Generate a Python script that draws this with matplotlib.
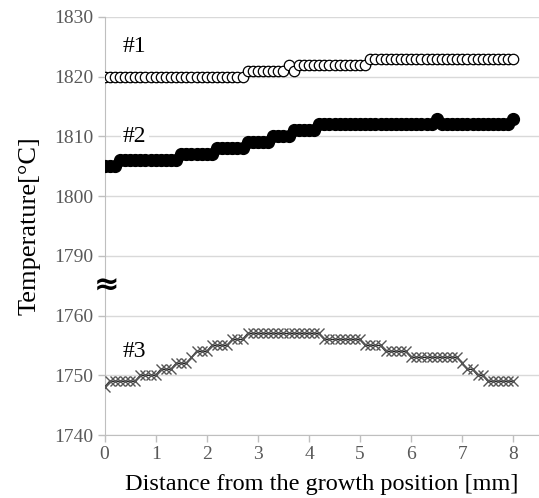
import numpy as np
import matplotlib
matplotlib.use("Agg")
import matplotlib.pyplot as plt

distance = [0.0, 0.1, 0.2, 0.3, 0.4, 0.5, 0.6, 0.7, 0.8, 0.9,
            1.0, 1.1, 1.2, 1.3, 1.4, 1.5, 1.6, 1.7, 1.8, 1.9,
            2.0, 2.1, 2.2, 2.3, 2.4, 2.5, 2.6, 2.7, 2.8, 2.9,
            3.0, 3.1, 3.2, 3.3, 3.4, 3.5, 3.6, 3.7, 3.8, 3.9,
            4.0, 4.1, 4.2, 4.3, 4.4, 4.5, 4.6, 4.7, 4.8, 4.9,
            5.0, 5.1, 5.2, 5.3, 5.4, 5.5, 5.6, 5.7, 5.8, 5.9,
            6.0, 6.1, 6.2, 6.3, 6.4, 6.5, 6.6, 6.7, 6.8, 6.9,
            7.0, 7.1, 7.2, 7.3, 7.4, 7.5, 7.6, 7.7, 7.8, 7.9, 8.0]

temp1 = [1820, 1820, 1820, 1820, 1820, 1820, 1820, 1820, 1820, 1820,
         1820, 1820, 1820, 1820, 1820, 1820, 1820, 1820, 1820, 1820,
         1820, 1820, 1820, 1820, 1820, 1820, 1820, 1820, 1821, 1821,
         1821, 1821, 1821, 1821, 1821, 1821, 1822, 1821, 1822, 1822,
         1822, 1822, 1822, 1822, 1822, 1822, 1822, 1822, 1822, 1822,
         1822, 1822, 1823, 1823, 1823, 1823, 1823, 1823, 1823, 1823,
         1823, 1823, 1823, 1823, 1823, 1823, 1823, 1823, 1823, 1823,
         1823, 1823, 1823, 1823, 1823, 1823, 1823, 1823, 1823, 1823, 1823]

temp2 = [1805, 1805, 1805, 1806, 1806, 1806, 1806, 1806, 1806, 1806,
         1806, 1806, 1806, 1806, 1806, 1807, 1807, 1807, 1807, 1807,
         1807, 1807, 1808, 1808, 1808, 1808, 1808, 1808, 1809, 1809,
         1809, 1809, 1809, 1810, 1810, 1810, 1810, 1811, 1811, 1811,
         1811, 1811, 1812, 1812, 1812, 1812, 1812, 1812, 1812, 1812,
         1812, 1812, 1812, 1812, 1812, 1812, 1812, 1812, 1812, 1812,
         1812, 1812, 1812, 1812, 1812, 1813, 1812, 1812, 1812, 1812,
         1812, 1812, 1812, 1812, 1812, 1812, 1812, 1812, 1812, 1812, 1813]

temp3 = [1748, 1749, 1749, 1749, 1749, 1749, 1749, 1750, 1750, 1750,
         1750, 1751, 1751, 1751, 1752, 1752, 1752, 1753, 1754, 1754,
         1754, 1755, 1755, 1755, 1755, 1756, 1756, 1756, 1757, 1757,
         1757, 1757, 1757, 1757, 1757, 1757, 1757, 1757, 1757, 1757,
         1757, 1757, 1757, 1756, 1756, 1756, 1756, 1756, 1756, 1756,
         1756, 1755, 1755, 1755, 1755, 1754, 1754, 1754, 1754, 1754,
         1753, 1753, 1753, 1753, 1753, 1753, 1753, 1753, 1753, 1753,
         1752, 1751, 1751, 1750, 1750, 1749, 1749, 1749, 1749, 1749, 1749]

series_labels = ["#1", "#2", "#3"]
y_ticks = [1740, 1750, 1760, 1790, 1800, 1810, 1820, 1830]
x_ticks = [0, 1, 2, 3, 4, 5, 6, 7, 8]

BREAK_LO, BREAK_HI = 1760.0, 1790.0

def fwd(v):
    v = np.asarray(v, dtype=float)
    return np.where(v <= BREAK_LO, v + 20.0,
                    np.where(v >= BREAK_HI, v, 1780.0 + (v - BREAK_LO) / 3.0))

def inv(t):
    t = np.asarray(t, dtype=float)
    return np.where(t <= 1780.0, t - 20.0,
                    np.where(t >= 1790.0, t, BREAK_LO + (t - 1780.0) * 3.0))

serif = ["Liberation Serif", "DejaVu Serif"]

fig = plt.figure(figsize=(5.39, 4.98), dpi=100)
ax = fig.add_axes([0.194, 0.1265, 0.806, 0.8394])
ax.set_yscale("function", functions=(fwd, inv))

ax.plot(distance, temp1, color="black", lw=1, marker="o", ms=7.5,
        mfc="white", mec="black", mew=0.9, zorder=3)
ax.plot(distance, temp2, color="black", lw=1, marker="o", ms=8.5,
        mfc="black", mec="black", zorder=3)
ax.plot(distance, temp3, color="#222222", lw=1, marker="x", ms=7,
        mec="#555555", mew=1.0, zorder=3)

ax.set_xlim(0, 8.5)
ax.set_ylim(1740, 1830)
ax.set_xticks(x_ticks)
ax.set_yticks(y_ticks)
ax.set_xticklabels([str(v) for v in x_ticks], fontfamily=serif, fontsize=14, color="#595959")
ax.set_yticklabels([str(v) for v in y_ticks], fontfamily=serif, fontsize=14, color="#595959")
ax.tick_params(axis="both", direction="out", length=5, width=1, color="#bfbfbf", pad=3)
ax.grid(axis="y", color="#d9d9d9", lw=1)
ax.set_axisbelow(True)
for s in ["top", "right"]:
    ax.spines[s].set_visible(False)
ax.spines["left"].set_color("#bfbfbf")
ax.spines["bottom"].set_color("#bfbfbf")

ax.set_xlabel("Distance from the growth position [mm]", fontfamily=serif,
              fontsize=17.5, color="black", labelpad=8)
ax.set_ylabel("Temperature[°C]", fontfamily=serif, fontsize=19, color="black", labelpad=10)

label_pos = [(0.59, 1825.0), (0.59, 1810.0), (0.59, 1754.0)]
for lab, (x, y) in zip(series_labels, label_pos):
    ax.text(x, y, lab, fontfamily=serif, fontsize=17, color="black",
            ha="center", va="center", zorder=4,
            bbox=dict(facecolor="white", edgecolor="none", pad=1.5))

ax.text(0.03, 1775, "≈", fontfamily=["DejaVu Sans"], fontsize=22, fontweight="bold",
        ha="center", va="center", color="black", rotation=0, clip_on=False, zorder=5)

fig.savefig("out.png", dpi=100)
